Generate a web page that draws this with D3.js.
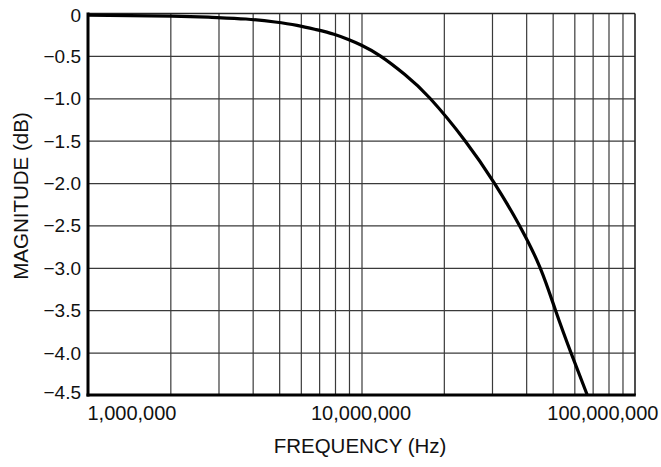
<!DOCTYPE html>
<html>
<head>
<meta charset="utf-8">
<script src="https://cdn.jsdelivr.net/npm/d3@7"></script>
<style>
  body { margin: 0; background: #fff; }
  svg text { font-family: "Liberation Sans", Arial, Helvetica, sans-serif; fill: #111; }
</style>
</head>
<body>
<div id="chart"></div>
<script>
// frequency response
var freqHz = [1.0e6, 2.03e6, 2.84e6, 3.78e6, 4.83e6, 5.81e6, 6.82e6, 7.93e6, 9.0e6, 10.0e6,
              11.7e6, 14.4e6, 17.8e6, 23.9e6, 30.6e6, 37.8e6, 45.0e6, 51.2e6, 58.3e6, 66.9e6];
var magDb = [-0.02, -0.03, -0.045, -0.065, -0.10, -0.14, -0.19, -0.245, -0.31, -0.375,
             -0.50, -0.72, -1.0, -1.5, -2.0, -2.5, -3.0, -3.5, -4.0, -4.5];

var gridFreqs = [2e6, 3e6, 4e6, 5e6, 6e6, 7e6, 8e6, 9e6, 10e6,
                 20e6, 30e6, 40e6, 50e6, 60e6, 70e6, 80e6, 90e6];
var xTickValues = [1e6, 10e6, 100e6];
var xTickLabels = ["1,000,000", "10,000,000", "100,000,000"];
var yTickValues = [0, -0.5, -1.0, -1.5, -2.0, -2.5, -3.0, -3.5, -4.0, -4.5];
var yTickLabels = ["0", "\u22120.5", "\u22121.0", "\u22121.5", "\u22122.0", "\u22122.5",
                   "\u22123.0", "\u22123.5", "\u22124.0", "\u22124.5"];

var margin = {top: 13.5, left: 88},
    w = 547,
    h = 381.5;

var svg = d3.select("#chart").append("svg")
    .attr("width", 661)
    .attr("height", 467);

var g = svg.append("g")
    .attr("transform", "translate(" + margin.left + "," + margin.top + ")");

var x = d3.scaleLog().domain([1e6, 100e6]).range([0, w]);
var y = d3.scaleLinear().domain([0, -4.5]).range([0, h]);

// grid
g.append("g")
    .attr("transform", "translate(0," + h + ")")
    .call(d3.axisBottom(x).tickValues(gridFreqs).tickSize(-h).tickFormat(""))
    .call(function(s) { s.select(".domain").remove(); })
    .selectAll("line")
    .attr("stroke", "#3a3a3a")
    .attr("stroke-width", 1.2);

g.append("g")
    .call(d3.axisLeft(y).tickValues(yTickValues.slice(1, -1)).tickSize(-w).tickFormat(""))
    .call(function(s) { s.select(".domain").remove(); })
    .selectAll("line")
    .attr("stroke", "#3a3a3a")
    .attr("stroke-width", 1.2);

// frame: thin top/right, heavy left/bottom
g.append("line").attr("x1", 0).attr("x2", w).attr("y1", y(0)).attr("y2", y(0))
    .attr("stroke", "#222").attr("stroke-width", 1.4);
g.append("line").attr("x1", x(100e6)).attr("x2", x(100e6)).attr("y1", 0).attr("y2", h)
    .attr("stroke", "#222").attr("stroke-width", 1.6);

// curve
var line = d3.line()
    .x(function(d, i) { return x(freqHz[i]); })
    .y(function(d) { return y(d); })
    .curve(d3.curveNatural);

g.append("path")
    .datum(magDb)
    .attr("d", line)
    .attr("fill", "none")
    .attr("stroke", "#000")
    .attr("stroke-width", 3.2)
    .attr("stroke-linejoin", "round");

g.append("line").attr("x1", 0).attr("x2", 0).attr("y1", -1).attr("y2", h + 1.5)
    .attr("stroke", "#000").attr("stroke-width", 3);
g.append("line").attr("x1", -1.5).attr("x2", w + 0.8).attr("y1", h).attr("y2", h)
    .attr("stroke", "#000").attr("stroke-width", 3);

// y tick labels
var yAx = g.append("g")
    .call(d3.axisLeft(y).tickValues(yTickValues).tickSize(0).tickPadding(7)
        .tickFormat(function(d, i) { return yTickLabels[i]; }));
yAx.select(".domain").remove();
yAx.selectAll("text")
    .attr("font-size", 19)
    .attr("dy", function(d, i) {
        if (i === 0) return 8;
        if (i === yTickValues.length - 1) return 3;
        return 6.5;
    });

// x tick labels
var xAx = g.append("g")
    .attr("transform", "translate(0," + h + ")")
    .call(d3.axisBottom(x).tickValues(xTickValues).tickSize(0)
        .tickFormat(function(d, i) { return xTickLabels[i]; }));
xAx.select(".domain").remove();
xAx.selectAll("text")
    .attr("font-size", 20)
    .attr("y", 24.5)
    .attr("dy", null)
    .attr("text-anchor", function(d, i) { return i === 0 ? "start" : (i === 2 ? "end" : "middle"); })
    .attr("dx", function(d, i) { return i === 0 ? -1 : (i === 2 ? 23 : -1); });

// axis titles
svg.append("text")
    .attr("x", 360)
    .attr("y", 453)
    .attr("text-anchor", "middle")
    .attr("font-size", 20.5)
    .text("FREQUENCY (Hz)");

svg.append("text")
    .attr("transform", "translate(28,196) rotate(-90)")
    .attr("text-anchor", "middle")
    .attr("font-size", 20.5)
    .text("MAGNITUDE (dB)");
</script>
</body>
</html>
